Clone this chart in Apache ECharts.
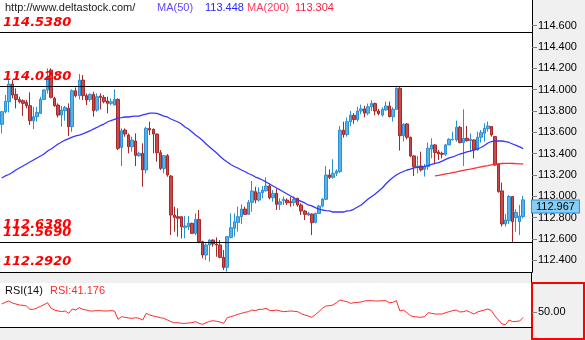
<!DOCTYPE html>
<html>
<head>
<meta charset="utf-8">
<script src="https://cdn.jsdelivr.net/npm/echarts@6/dist/echarts.min.js"></script>
<style>
  html, body { margin: 0; padding: 0; background: #f0f0f0; }
  #chart { width: 585px; height: 340px; }
</style>
</head>
<body>
<div id="chart"></div>
<script>
// USDJPY-style bar data: one entry per bar
const opens = [
  113.675,113.794,113.887,114.053,113.956,113.909,113.897,113.881,113.850,113.709,
  113.747,113.778,113.909,113.997,114.184,113.919,113.856,113.762,113.803,113.825,
  113.653,113.990,113.944,114.090,113.944,113.909,113.956,113.809,113.940,113.928,
  113.894,113.872,113.856,113.909,113.459,113.622,113.575,113.465,113.519,113.381,
  113.403,113.247,113.637,113.628,113.584,113.409,113.262,113.381,113.190,112.825,
  112.809,112.809,112.709,112.715,112.747,112.653,112.784,112.575,112.450,112.544,
  112.590,112.553,112.544,112.428,112.334,112.615,112.700,112.756,112.809,112.881,
  112.831,112.944,113.044,112.965,113.034,113.053,113.097,112.987,113.028,112.925,
  112.959,112.965,112.950,112.940,112.981,112.919,112.862,112.825,112.834,112.756,
  112.840,112.909,112.972,113.200,113.178,113.216,113.231,113.620,113.580,113.700,
  113.760,113.720,113.800,113.820,113.780,113.840,113.870,113.800,113.763,113.810,
  113.847,113.747,113.816,114.013,113.569,113.679,113.554,113.379,113.273,113.285,
  113.254,113.279,113.444,113.482,113.416,113.404,113.394,113.482,113.529,113.529,
  113.648,113.504,113.544,113.522,113.529,113.435,113.554,113.591,113.635,113.654,
  113.560,113.304,113.051,112.741,112.772,112.998,112.800,112.763,112.810
];
const closes = [
  113.794,113.890,114.053,113.950,113.909,113.887,113.872,113.850,113.709,113.747,
  113.787,113.909,113.997,114.122,113.928,113.850,113.762,113.809,113.834,113.653,
  113.990,113.944,114.090,113.944,113.903,113.956,113.803,113.934,113.928,113.887,
  113.872,113.887,113.909,113.450,113.615,113.584,113.465,113.528,113.384,113.403,
  113.247,113.637,113.622,113.584,113.409,113.262,113.381,113.200,112.825,112.803,
  112.794,112.715,112.722,112.747,112.653,112.784,112.575,112.450,112.544,112.590,
  112.553,112.544,112.428,112.334,112.622,112.706,112.762,112.809,112.881,112.831,
  112.944,113.050,112.965,113.034,113.059,113.097,112.987,113.028,112.925,112.950,
  112.972,112.940,112.940,112.972,112.919,112.862,112.831,112.840,112.753,112.840,
  112.909,112.975,113.200,113.178,113.216,113.237,113.620,113.580,113.700,113.760,
  113.720,113.800,113.820,113.780,113.840,113.870,113.800,113.775,113.816,113.847,
  113.747,113.816,114.013,113.569,113.676,113.554,113.379,113.279,113.285,113.248,
  113.279,113.451,113.482,113.410,113.398,113.394,113.482,113.535,113.535,113.648,
  113.504,113.544,113.522,113.535,113.435,113.554,113.597,113.638,113.660,113.576,
  113.294,113.044,112.741,112.779,112.998,112.763,112.850,112.816,112.967
];
const highs = [
  113.800,113.950,114.090,114.090,114.012,113.934,113.909,113.903,113.975,113.840,
  113.840,113.934,114.003,114.200,114.200,113.934,113.872,113.847,113.847,113.872,
  114.003,114.022,114.147,114.137,113.965,113.965,113.981,113.965,113.965,113.950,
  113.934,113.919,114.003,113.919,113.637,113.637,113.590,113.559,113.590,113.419,
  113.497,113.653,113.700,113.637,113.590,113.434,113.387,113.397,113.200,112.903,
  112.887,112.809,112.815,112.815,112.753,112.840,112.872,112.584,112.559,112.597,
  112.597,112.615,112.590,112.497,112.622,112.840,112.840,112.903,112.925,112.903,
  112.965,113.144,113.090,113.084,113.097,113.178,113.122,113.059,113.075,112.981,
  112.997,112.981,112.997,112.997,112.987,112.934,112.872,112.856,112.840,112.847,
  112.919,112.981,113.284,113.253,113.347,113.253,113.660,113.700,113.740,113.800,
  113.780,113.840,113.860,113.850,113.870,113.900,113.880,113.820,113.835,113.888,
  113.888,113.835,114.022,114.029,113.685,113.685,113.560,113.385,113.379,113.419,
  113.304,113.504,113.544,113.491,113.435,113.419,113.491,113.544,113.607,113.710,
  113.660,113.816,113.660,113.591,113.535,113.607,113.622,113.685,113.701,113.660,
  113.566,113.310,113.129,112.835,113.013,113.004,112.879,112.919,113.004
];
const lows = [
  113.590,113.778,113.787,113.919,113.825,113.872,113.753,113.825,113.669,113.631,
  113.700,113.772,113.903,113.965,113.919,113.840,113.740,113.653,113.709,113.565,
  113.606,113.928,113.909,113.903,113.856,113.887,113.747,113.794,113.815,113.872,
  113.778,113.856,113.856,113.434,113.284,113.559,113.403,113.419,113.284,113.372,
  113.090,113.215,113.575,113.403,113.325,113.247,113.215,113.184,112.637,112.669,
  112.622,112.606,112.606,112.684,112.647,112.637,112.559,112.419,112.403,112.387,
  112.528,112.434,112.419,112.309,112.294,112.606,112.622,112.669,112.740,112.825,
  112.825,112.856,112.934,112.950,112.981,113.044,112.972,112.950,112.872,112.872,
  112.919,112.919,112.903,112.909,112.903,112.825,112.778,112.815,112.637,112.747,
  112.834,112.897,112.965,113.162,113.166,113.190,113.220,113.550,113.560,113.660,
  113.680,113.700,113.770,113.740,113.760,113.800,113.760,113.760,113.747,113.804,
  113.741,113.701,113.810,113.429,113.513,113.535,113.366,113.191,113.216,113.232,
  113.185,113.248,113.357,113.301,113.341,113.357,113.379,113.482,113.529,113.513,
  113.497,113.285,113.513,113.419,113.357,113.429,113.504,113.513,113.607,113.560,
  113.285,113.035,112.716,112.716,112.741,112.566,112.669,112.638,112.794
];
// 50-bar moving average
const ma50 = [
  113.172,113.191,113.205,113.224,113.247,113.266,113.285,113.303,113.322,113.341,
  113.360,113.378,113.397,113.425,113.444,113.467,113.491,113.510,113.528,113.542,
  113.556,113.566,113.575,113.585,113.599,113.613,113.631,113.646,113.664,113.678,
  113.697,113.711,113.721,113.735,113.739,113.744,113.744,113.749,113.753,113.753,
  113.763,113.772,113.781,113.781,113.777,113.767,113.753,113.744,113.725,113.711,
  113.697,113.678,113.650,113.631,113.603,113.575,113.552,113.524,113.491,113.463,
  113.435,113.406,113.374,113.346,113.322,113.299,113.280,113.266,113.247,113.233,
  113.214,113.200,113.181,113.168,113.153,113.135,113.116,113.097,113.078,113.060,
  113.041,113.022,113.003,112.985,112.966,112.952,112.938,112.919,112.910,112.895,
  112.881,112.872,112.867,112.863,112.853,112.853,112.853,112.853,112.863,112.867,
  112.881,112.900,112.919,112.947,112.975,112.999,113.022,113.050,113.078,113.116,
  113.149,113.177,113.200,113.219,113.233,113.247,113.256,113.266,113.271,113.275,
  113.280,113.289,113.299,113.308,113.317,113.331,113.346,113.360,113.369,113.383,
  113.397,113.406,113.416,113.425,113.435,113.444,113.458,113.477,113.500,113.514,
  113.519,113.519,113.519,113.514,113.505,113.491,113.477,113.463,113.448
];
// 200-bar moving average (only the tail is on screen)
const ma200Tail = [
  113.191,113.196,113.203,113.210,113.216,113.223,113.229,113.236,113.243,113.250,
  113.256,113.263,113.269,113.276,113.283,113.289,113.296,113.301,113.305,113.308,
  113.309,113.309,113.308,113.307,113.305,113.304
];
// RSI(14)
const rsi = [
  64.8,67.7,70.1,66.5,64.8,63.0,62.4,61.2,55.3,55.3,
  57.7,60.6,63.6,67.1,57.1,54.1,52.4,51.2,52.4,48.2,
  55.9,54.1,58.3,55.3,54.1,52.4,52.4,53.0,53.0,52.4,
  52.4,53.0,52.4,37.6,42.3,41.1,40.0,39.4,40.5,39.4,
  36.4,48.2,45.3,43.5,42.3,40.5,39.4,36.4,33.5,31.7,
  31.7,30.5,30.5,31.1,31.7,33.5,30.5,28.7,31.7,34.0,
  35.2,34.0,32.8,30.5,40.5,42.3,44.1,46.4,48.2,50.0,
  51.2,54.1,53.0,55.3,55.3,57.1,53.5,53.0,54.1,52.4,
  51.2,51.8,52.4,51.8,51.2,47.6,45.3,43.5,41.1,45.9,
  51.2,57.1,61.2,61.8,63.0,67.1,71.9,70.1,68.9,66.0,
  67.1,67.7,68.3,70.1,70.7,70.7,70.1,70.1,70.7,70.7,
  67.1,67.7,70.7,52.4,54.1,49.4,44.1,42.3,41.7,41.1,
  42.3,49.4,48.2,47.0,47.0,47.0,49.4,51.2,53.0,54.1,
  50.6,51.2,53.0,50.0,47.0,50.6,52.4,54.1,55.9,53.0,
  43.5,36.4,29.3,28.1,36.4,33.5,34.0,34.6,41.176
];
const priceTicks = [112.4,112.6,112.8,113.0,113.2,113.4,113.6,113.8,114.0,114.2,114.4,114.6];
const rsiTicks = [50];
const levels = [114.538, 114.028, 112.638, 112.569, 112.292];
const labelOnlyLevels = [112.638];

const site = 'http://www.deltastock.com/';
const padBars = 2;
const categories = opens.map((_, i) => String(i + 1)).concat(Array(padBars).fill(''));
const candles = opens.map((o, i) => [o, closes[i], lows[i], highs[i]]);
const ma200 = Array(opens.length - ma200Tail.length).fill(null).concat(ma200Tail);
const last = opens.length - 1;

const chart = echarts.init(document.getElementById('chart'), null, { renderer: 'canvas' });
const uiFont = '"Liberation Sans", Arial, sans-serif';
const levelFont = 'italic bold 13px "DejaVu Sans", Verdana, sans-serif';

const staticGraphics = [
  { type: 'text', left: 5, top: 2, style: { text: site, font: '11px ' + uiFont, fill: '#202020' } },
  { type: 'text', left: 157, top: 2, style: { text: 'MA(50)', font: '11px ' + uiFont, fill: '#6a46ff' } },
  { type: 'text', left: 205, top: 2, style: { text: ma50[last].toFixed(3), font: '11px ' + uiFont, fill: '#2626ff' } },
  { type: 'text', left: 247, top: 2, style: { text: 'MA(200)', font: '11px ' + uiFont, fill: '#ff3c64' } },
  { type: 'text', left: 295, top: 2, style: { text: ma200[last].toFixed(3), font: '11px ' + uiFont, fill: '#ff1a3c' } },
  { type: 'text', left: 5, top: 285, style: { text: 'RSI(14)', font: '11px ' + uiFont, fill: '#101010' } },
  { type: 'text', left: 50, top: 285, style: { text: 'RSI:' + rsi[last].toFixed(3), font: '11px ' + uiFont, fill: '#ff2a2a' } },
  { type: 'line', shape: { x1: 531.5, y1: 272, x2: 531.5, y2: 283 }, style: { stroke: '#000', lineWidth: 1 } },
  { type: 'rect', shape: { x: 532, y: 283, width: 52, height: 56 }, style: { fill: 'none', stroke: '#ff0000', lineWidth: 2 }, z: -1 }
];

chart.setOption({
  animation: false,
  backgroundColor: '#f0f0f0',
  grid: [
    { left: 0, top: 0, width: 532, height: 272, show: true, backgroundColor: '#ffffff', borderWidth: 0 },
    { left: 0, top: 283, width: 532, height: 44, show: true, backgroundColor: '#ffffff', borderWidth: 0 }
  ],
  xAxis: [
    { type: 'category', gridIndex: 0, data: categories, boundaryGap: true,
      axisLine: { lineStyle: { color: '#000', width: 1 } }, axisTick: { show: false }, axisLabel: { show: false } },
    { type: 'category', gridIndex: 1, data: categories, boundaryGap: true,
      axisLine: { lineStyle: { color: '#000', width: 1 } }, axisTick: { show: false }, axisLabel: { show: false } }
  ],
  yAxis: [
    { type: 'value', gridIndex: 0, position: 'right', min: 112.2906, max: 114.841,
      splitLine: { show: false },
      axisLine: { show: true, lineStyle: { color: '#000' } },
      axisTick: { show: true, length: 5, lineStyle: { color: '#808080' }, customValues: priceTicks },
      axisLabel: { customValues: priceTicks, formatter: v => v.toFixed(3), color: '#000',
        fontFamily: uiFont, fontSize: 11, margin: 6 } },
    { type: 'value', gridIndex: 1, position: 'right', min: 24, max: 102,
      splitLine: { show: false },
      axisLine: { show: true, lineStyle: { color: '#ff0000', width: 2 } },
      axisTick: { show: true, length: 5, lineStyle: { color: '#808080' }, customValues: rsiTicks },
      axisLabel: { customValues: rsiTicks, formatter: v => v.toFixed(2), color: '#000',
        fontFamily: uiFont, fontSize: 11, margin: 6 } }
  ],
  series: [
    {
      type: 'candlestick', xAxisIndex: 0, yAxisIndex: 0, data: candles,
      barWidth: 3, silent: true,
      itemStyle: { color: '#5ab2e4', color0: '#c84c4c', borderColor: '#2a8fd4', borderColor0: '#a82828', borderWidth: 1 },
      markLine: {
        silent: true, symbol: 'none', animation: false,
        data: levels.filter(v => !labelOnlyLevels.includes(v)).map(v => ({
          yAxis: v,
          lineStyle: { color: '#000', width: 1.2, type: 'solid' },
          label: { show: false }
        })).concat([{
          yAxis: closes[last],
          lineStyle: { color: 'rgba(0,0,0,0)' },
          label: { position: 'end', distance: 0, offset: [0, 7], formatter: closes[last].toFixed(3),
            backgroundColor: '#87cdf5', borderColor: '#2b8fd6', borderWidth: 1,
            padding: [0, 4, 0, 4], lineHeight: 12, color: '#000', fontFamily: uiFont, fontSize: 11 }
        }])
      }
    },
    { type: 'line', xAxisIndex: 0, yAxisIndex: 0, data: ma50, symbol: 'none', silent: true,
      lineStyle: { color: '#3535ff', width: 1.3 }, z: 3 },
    { type: 'line', xAxisIndex: 0, yAxisIndex: 0, data: ma200, symbol: 'none', silent: true,
      lineStyle: { color: '#ff2d2d', width: 1.3 }, z: 3 },
    { type: 'line', xAxisIndex: 1, yAxisIndex: 1, data: rsi, symbol: 'none', silent: true,
      lineStyle: { color: '#ff2a2a', width: 1 } }
  ],
  graphic: staticGraphics
});

// Level captions sit just above their price, placed through the price axis
const levelTexts = levels.map(v => ({
  type: 'text', x: 3, y: chart.convertToPixel({ yAxisIndex: 0 }, v) - 10, z: 10,
  style: { text: v.toFixed(4), font: levelFont, fill: '#ff0000', textVerticalAlign: 'middle' }
}));
chart.setOption({ graphic: staticGraphics.concat(levelTexts) });
</script>
</body>
</html>
